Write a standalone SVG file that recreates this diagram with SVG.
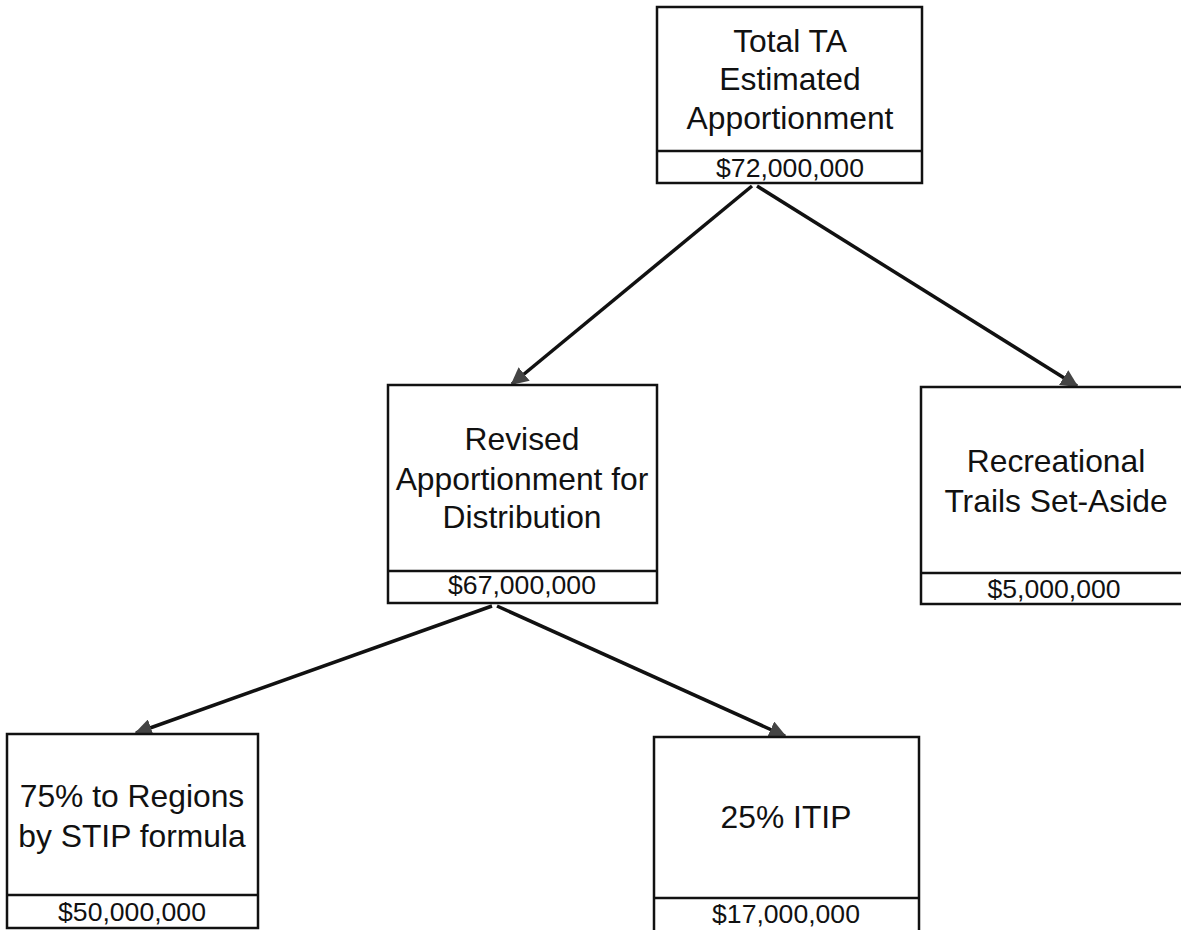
<svg xmlns="http://www.w3.org/2000/svg" width="1181" height="930" viewBox="0 0 1181 930">
<style>
.box{fill:#fff;stroke:#111;stroke-width:2.5}
.div{stroke:#111;stroke-width:2.5}
.t{font-family:"Liberation Sans",Arial,sans-serif;font-size:31.8px;fill:#111;text-anchor:middle}
.a{font-family:"Liberation Sans",Arial,sans-serif;font-size:26.6px;fill:#111;text-anchor:middle}
.c{stroke:#111;stroke-width:3.5;fill:none;marker-end:url(#ah)}
</style>
<defs>
<marker id="ah" viewBox="0 0 10 10" refX="9" refY="5" markerWidth="5" markerHeight="5" orient="auto" markerUnits="strokeWidth">
<path d="M0,0 L10,5 L0,10 z" fill="#444"/>
</marker>
</defs>
<rect width="1181" height="930" fill="#fff"/>
<g id="connectors">
<line class="c" x1="752" y1="186" x2="512" y2="384"/>
<line class="c" x1="757" y1="186" x2="1077" y2="386"/>
<line class="c" x1="492" y1="606" x2="136" y2="733"/>
<line class="c" x1="497" y1="606" x2="785" y2="736"/>
</g>
<g id="total">
<rect class="box" x="657" y="7" width="265" height="176"/>
<line class="div" x1="657" y1="151" x2="922" y2="151"/>
<text class="t" x="790" y="52">Total TA</text>
<text class="t" x="790" y="90">Estimated</text>
<text class="t" x="790" y="129">Apportionment</text>
<text class="a" x="790" y="177">$72,000,000</text>
</g>
<g id="revised">
<rect class="box" x="388" y="385" width="269" height="218"/>
<line class="div" x1="388" y1="571" x2="657" y2="571"/>
<text class="t" x="522" y="450">Revised</text>
<text class="t" x="522" y="490">Apportionment for</text>
<text class="t" x="522" y="528">Distribution</text>
<text class="a" x="522" y="594">$67,000,000</text>
</g>
<g id="trails">
<rect class="box" x="921" y="387" width="268" height="217"/>
<line class="div" x1="921" y1="573" x2="1189" y2="573"/>
<text class="t" x="1056" y="472">Recreational</text>
<text class="t" x="1056" y="512">Trails Set-Aside</text>
<text class="a" x="1054" y="598">$5,000,000</text>
</g>
<g id="regions">
<rect class="box" x="7" y="734" width="251" height="194"/>
<line class="div" x1="7" y1="895" x2="258" y2="895"/>
<text class="t" x="132" y="807">75% to Regions</text>
<text class="t" x="132" y="847">by STIP formula</text>
<text class="a" x="132" y="921">$50,000,000</text>
</g>
<g id="itip">
<rect class="box" x="654" y="737" width="265" height="200"/>
<line class="div" x1="654" y1="898" x2="919" y2="898"/>
<text class="t" x="786" y="828">25% ITIP</text>
<text class="a" x="786" y="923">$17,000,000</text>
</g>
</svg>
